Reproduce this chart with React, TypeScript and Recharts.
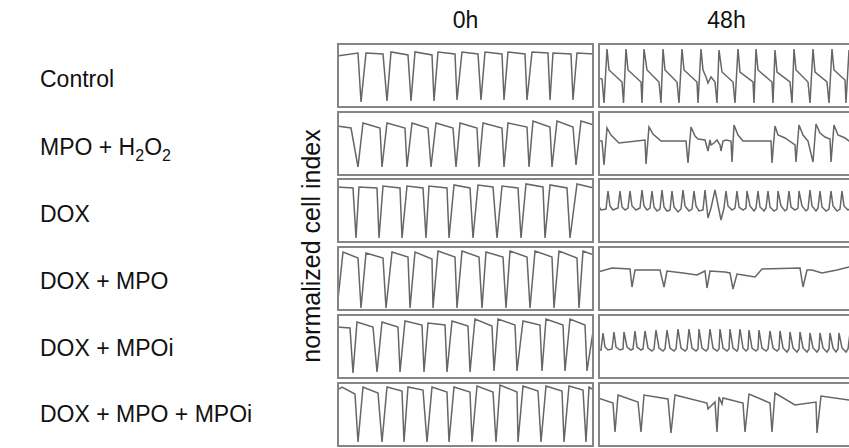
import React from 'react';
import { LineChart, Line, XAxis, YAxis } from 'recharts';

type Pt = [number, number];

// Row and column labels
const conditions: string[] = ['Control', 'MPO + H2O2', 'DOX', 'DOX + MPO', 'DOX + MPOi', 'DOX + MPO + MPOi'];
const timepoints: string[] = ['0h', '48h'];
const yAxisTitle = 'normalized cell index';

// Traces: [time (a.u.), normalized cell index (a.u.)]
const control0h: Pt[] = [[0,52],[21,55],[24,6],[29,55],[46,54],[50,7],[54,56],[71,53],[74,7],[78,56],[95,53],[97,7],[101,56],[118,54],[120,8],[125,56],[141,54],[144,8],[148,56],[165,54],[167,8],[171,56],[188,54],[190,8],[195,56],[211,55],[213,8],[216,55],[234,54],[236,8],[240,55],[257,54]];
const mpoH2o20h: Pt[] = [[0,50],[14,48],[21,9],[26,53],[43,48],[45,9],[50,53],[68,48],[70,9],[75,53],[91,48],[94,9],[99,53],[116,48],[119,9],[123,53],[140,48],[142,9],[146,53],[165,48],[167,9],[171,53],[190,49],[192,9],[196,55],[213,49],[215,9],[220,55],[236,49],[239,11],[244,55],[257,51]];
const dox0h: Pt[] = [[0,56],[16,55],[19,5],[22,56],[40,55],[42,5],[46,57],[63,55],[65,5],[70,57],[86,55],[89,5],[92,57],[110,55],[112,5],[117,58],[133,55],[136,5],[141,58],[156,56],[160,5],[165,57],[181,55],[184,5],[189,59],[206,56],[208,5],[213,58],[230,55],[233,5],[240,59],[257,55]];
const doxMpo0h: Pt[] = [[0,2],[6,59],[21,53],[24,3],[29,58],[46,53],[49,3],[55,59],[71,54],[73,3],[78,59],[95,52],[96,3],[101,60],[118,54],[120,3],[125,60],[142,54],[145,3],[149,59],[166,54],[169,3],[173,60],[190,54],[193,3],[198,60],[215,54],[217,3],[222,60],[240,53],[242,3],[246,60],[257,56]];
const doxMpoi0h: Pt[] = [[0,52],[13,51],[16,6],[20,57],[36,52],[40,7],[45,57],[61,52],[63,7],[68,58],[85,54],[87,7],[91,56],[108,54],[110,7],[115,58],[131,53],[133,7],[138,60],[155,53],[157,8],[161,60],[178,54],[180,8],[186,58],[203,54],[205,8],[209,60],[226,54],[228,8],[233,60],[248,54],[250,8],[257,54]];
const doxMpoMpoi0h: Pt[] = [[0,57],[5,60],[18,53],[21,5],[26,60],[41,54],[45,5],[50,60],[65,56],[67,5],[71,60],[86,57],[90,5],[95,60],[110,55],[112,5],[117,60],[133,55],[135,5],[140,61],[156,55],[159,5],[163,62],[180,55],[181,5],[186,61],[201,56],[204,5],[209,61],[225,56],[227,5],[232,61],[246,57],[249,5],[252,60],[257,57]];

const control48h: Pt[] = [[0,30],[4,29],[6,5],[9,59],[11,38],[24,26],[25.5,5],[28,59],[30,38],[43,26],[44,5],[46,59],[49,38],[61,26],[63,5],[65,59],[67,38],[79,26],[81,5],[84,59],[86,38],[99,26],[100,5],[103,59],[105,38],[108,31],[110,25],[113,31],[117,26],[119,5],[121,58],[124,36],[135,26],[137,5],[140,59],[142,36],[155,26],[156,5],[158,59],[160,38],[174,26],[175,5],[177,58],[179,36],[192,26],[194,5],[196,59],[198,38],[210,26],[212,5],[215,59],[217,36],[229,26],[231,5],[234,59],[236,38],[247,28],[248,5],[251,58],[255,38]];
const mpoH2o248h: Pt[] = [[0,35],[4,35],[6,11],[9,48],[13,41],[21,33],[47,36],[48,12],[51,49],[55,42],[63,35],[88,35],[90,13],[93,49],[97,40],[100,37],[107,36],[110,25],[112,36],[113,31],[116,33],[119,36],[122,31],[123,25],[125,35],[128,36],[133,35],[134,14],[136,51],[140,41],[145,35],[173,35],[174,13],[177,50],[180,41],[187,38],[197,31],[198,14],[201,51],[205,41],[210,35],[215,14],[218,52],[222,43],[227,39],[232,37],[233,14],[236,51],[240,41],[247,38],[251,35],[257,33]];
const dox48h: Pt[] = [[0,38],[3,33],[8,34],[10,52],[12,37],[15,33],[20,35],[22,52],[24,36],[27,33],[30,35],[32,52],[34,37],[38,33],[42,35],[44,53],[46,37],[49,33],[52,35],[54,52],[56,36],[59,32],[62,34],[64,53],[66,36],[69,32],[72,33],[74,52],[76,36],[80,31],[83,34],[85,53],[87,37],[91,32],[94,34],[96,52],[98,37],[101,32],[105,33],[107,53],[110,25],[113,35],[117,53],[120,38],[123,23],[126,35],[128,52],[130,37],[134,33],[137,35],[139,52],[141,36],[145,33],[148,35],[149,52],[152,37],[156,32],[158,35],[160,52],[162,36],[166,32],[168,35],[170,52],[172,36],[176,32],[179,34],[180,52],[183,37],[187,32],[189,34],[191,52],[193,36],[197,33],[200,35],[201,52],[204,37],[208,32],[210,34],[212,53],[214,37],[218,32],[220,35],[222,52],[224,36],[228,32],[231,34],[233,52],[235,37],[239,32],[242,34],[244,52],[246,37],[250,33],[253,35],[255,52]];
const doxMpo48h: Pt[] = [[0,39],[14,43],[32,42],[34,24],[37,41],[62,41],[66,24],[69,40],[85,38],[99,36],[107,40],[109,23],[112,40],[127,39],[132,38],[135,22],[139,37],[145,36],[157,34],[164,42],[202,43],[205,24],[209,41],[214,41],[224,38],[239,41],[251,44],[257,44]];
const doxMpoi48h: Pt[] = [[0,29],[3,29],[5,46],[7,32],[10,29],[14,30],[16,47],[18,32],[22,29],[25,30],[26,47],[29,32],[33,29],[35,30],[37,48],[39,32],[43,29],[45,30],[47,48],[50,31],[54,28],[56,30],[58,49],[61,31],[65,28],[67,30],[69,49],[72,31],[76,28],[78,30],[80,50],[83,31],[87,28],[89,30],[91,50],[94,31],[98,28],[100,30],[101,50],[104,31],[108,28],[110,30],[112,50],[115,31],[119,28],[121,30],[122,50],[125,31],[129,28],[131,30],[132,50],[135,31],[139,28],[140,30],[142,50],[145,31],[148,28],[150,30],[151,49],[154,31],[158,28],[160,30],[161,49],[164,31],[168,28],[170,30],[172,48],[175,31],[179,28],[181,30],[182,48],[185,31],[189,27],[191,30],[192,47],[195,31],[199,27],[201,30],[202,47],[205,31],[209,27],[211,30],[212,46],[215,31],[219,27],[221,30],[222,46],[225,31],[229,27],[231,30],[232,46],[235,31],[238,27],[240,30],[241,46],[244,31],[248,27],[250,30],[252,46],[255,31],[257,29]];
const doxMpoMpoi48h: Pt[] = [[0,49],[15,44],[17,15],[20,52],[40,45],[43,15],[46,52],[70,48],[73,14],[77,52],[109,44],[110,38],[117,45],[119,15],[121,50],[124,43],[125,49],[145,44],[147,15],[151,53],[172,44],[174,15],[177,54],[197,42],[218,45],[219,14],[223,51],[251,47],[257,46]];

const traces: Pt[][][] = [
  [control0h, control48h],
  [mpoH2o20h, mpoH2o248h],
  [dox0h, dox48h],
  [doxMpo0h, doxMpo48h],
  [doxMpoi0h, doxMpoi48h],
  [doxMpoMpoi0h, doxMpoMpoi48h],
];

const PANEL_W = 257;
const PANEL_H = 65;
const COL_X = [337, 598];
const ROW_Y = [43, 111, 178, 246, 314, 382];
const FONT = '"Liberation Sans", Arial, Helvetica, sans-serif';

function Panel({ pts, left, top }: { pts: Pt[]; left: number; top: number }) {
  const rows = pts.map(([t, v]) => ({ t, v }));
  return (
    <div style={{ position: 'absolute', left, top, width: PANEL_W, height: PANEL_H }}>
      <LineChart width={PANEL_W} height={PANEL_H} data={rows} margin={{ top: 0, right: 0, bottom: 0, left: 0 }}>
        <XAxis dataKey="t" type="number" domain={[0, 257]} hide />
        <YAxis type="number" domain={[0, 65]} hide />
        <Line type="linear" dataKey="v" stroke="#666666" strokeWidth={1.5} dot={false} isAnimationActive={false} />
      </LineChart>
      <div style={{ position: 'absolute', left: 0, top: 0, width: PANEL_W, height: PANEL_H, border: '2px solid #858585', boxSizing: 'border-box' }} />
    </div>
  );
}

function Label({ text, y }: { text: string; y: number }) {
  const parts = text.split(/(H2O2)/);
  return (
    <text x={40} y={y} fontSize={23} fill="#111" fontFamily={FONT}>
      {parts.map((p, i) =>
        p === 'H2O2' ? (
          <React.Fragment key={i}>
            <tspan>H</tspan>
            <tspan fontSize={16} dy={6}>2</tspan>
            <tspan dy={-6}>O</tspan>
            <tspan fontSize={16} dy={6}>2</tspan>
          </React.Fragment>
        ) : (
          <tspan key={i}>{p}</tspan>
        )
      )}
    </text>
  );
}

export default function App() {
  const labelBaselines = [87, 155, 222, 289, 356, 422];
  return (
    <div style={{ position: 'absolute', left: 0, top: 0, width: 849, height: 448, overflow: 'hidden', background: '#fff' }}>
      <svg width={849} height={448} style={{ position: 'absolute', left: 0, top: 0 }}>
        {timepoints.map((tp, c) => (
          <text key={tp} x={COL_X[c] + PANEL_W / 2} y={28} fontSize={23} textAnchor="middle" fill="#111" fontFamily={FONT}>
            {tp}
          </text>
        ))}
        {conditions.map((c, r) => (
          <Label key={c} text={c} y={labelBaselines[r]} />
        ))}
        <text x={320} y={246} fontSize={25} textAnchor="middle" fill="#111" fontFamily={FONT} transform="rotate(-90 320 246)">
          {yAxisTitle}
        </text>
      </svg>
      {traces.map((row, r) =>
        row.map((pts, c) => <Panel key={`${r}-${c}`} pts={pts} left={COL_X[c]} top={ROW_Y[r]} />)
      )}
    </div>
  );
}
